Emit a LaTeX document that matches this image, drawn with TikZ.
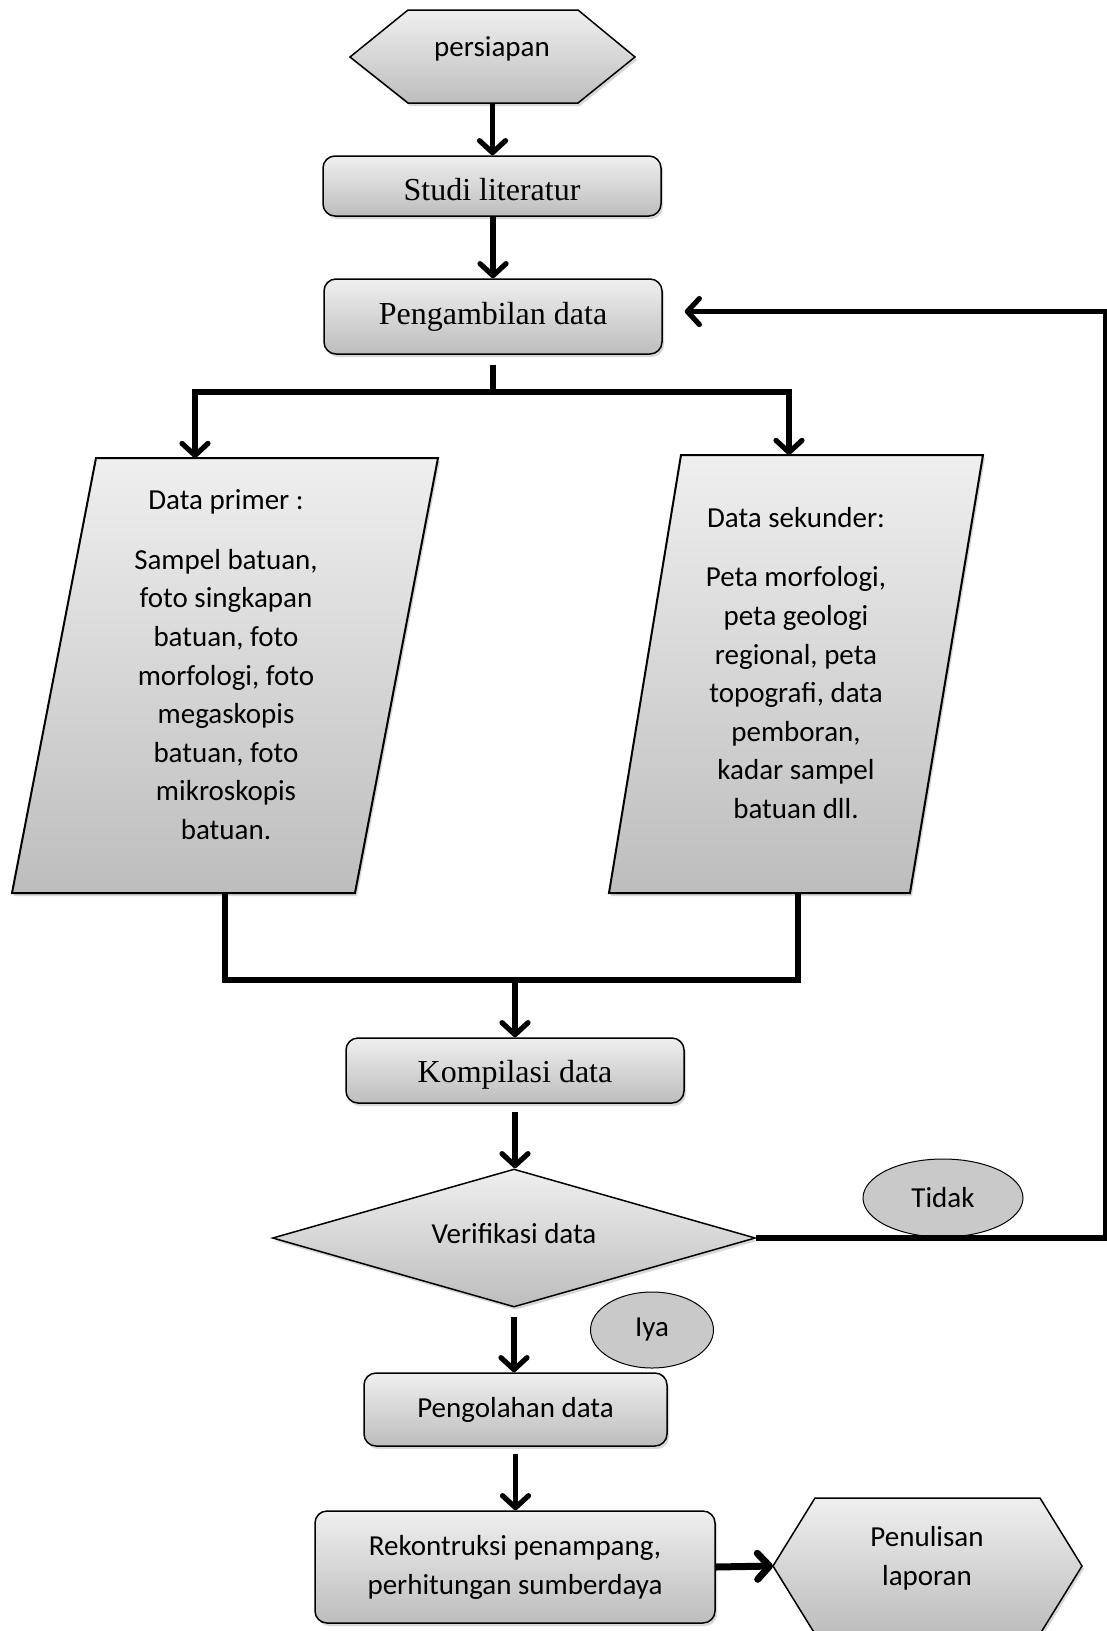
\documentclass[tikz,border=0pt]{standalone}
\usepackage{fontspec}
\setmainfont{Carlito}
\newfontfamily\tnr{Liberation Serif}
\usetikzlibrary{arrows.meta,shapes.geometric,shadows}
\definecolor{gtop}{HTML}{EFEFEF}
\definecolor{gbot}{HTML}{BDBDBD}
\definecolor{ovalgray}{HTML}{C9C9C9}
\tikzset{
  shade box/.style={top color=gtop, bottom color=gbot, draw=black, line width=1.5pt,
    drop shadow={opacity=0.3, shadow xshift=2pt, shadow yshift=-3pt}},
  procbox/.style={shade box, rounded corners=12pt, inner sep=0pt},
  calfont/.style={font=\fontsize{29}{38.6}\selectfont},
  tnrfont/.style={font=\tnr\fontsize{32}{38}\selectfont},
  conn/.style={line width=5.2pt, draw=black},
  arr/.style={conn, -{Straight Barb[length=12pt,width=26pt,round]}},
  oval/.style={ellipse, draw=black, line width=1pt, fill=ovalgray, calfont, inner sep=0pt},
  ghost/.style={inner sep=0pt, outer sep=0pt}
}
\begin{document}
\begin{tikzpicture}[x=1pt,y=-1pt]
\fill[white] (0,0) rectangle (1107,1631);
\useasboundingbox (0,0) rectangle (1107,1631);

% persiapan
\path[shade box] (350,57) -- (408,10) -- (578,10) -- (635,57) -- (578,103) -- (408,103) -- cycle;
\node[ghost, minimum width=285pt, minimum height=93pt] (persiapan) at (492.5,56.5) {};
\node[calfont] (persiapanT) at (492,49) {persiapan};

\node[procbox, minimum width=338pt, minimum height=60pt, tnrfont, text height=30pt] (studi) at (492,186) {Studi literatur};
\node[procbox, minimum width=338pt, minimum height=75pt, tnrfont] (peng) at (493,316.5) {Pengambilan data};

\draw[arr] (persiapan.south) -- (persiapan.south |- studi.north);
\draw[arr] (studi.south -| peng.north) -- (peng.north);

% split
\coordinate (splitL) at (195,392);
\coordinate (splitR) at (789,392);
\draw[conn] ([yshift=-10pt]peng.south) -- (peng.south |- splitL);
\draw[conn, line cap=rect] (splitL) -- (splitR);

% parallelograms
\path[shade box, line width=2pt] (96,458) -- (438,458) -- (355,893) -- (12,893) -- cycle;
\node[ghost, minimum width=342pt, minimum height=435pt] (primer) at (225,675.5) {};
\node[calfont, align=center, anchor=north, inner sep=0pt] (primerT) at (226,489.5)
  {Data primer :\\[21pt]Sampel batuan,\\foto singkapan\\batuan, foto\\morfologi, foto\\megaskopis\\batuan, foto\\mikroskopis\\batuan.};

\path[shade box, line width=2pt] (681,455) -- (983,455) -- (910,893) -- (609,893) -- cycle;
\node[ghost, minimum width=302pt, minimum height=438pt] (sekunder) at (796,674) {};
\node[calfont, align=center, anchor=north, inner sep=0pt] (sekunderT) at (796,507)
  {Data sekunder:\\[21pt]Peta morfologi,\\peta geologi\\regional, peta\\topografi, data\\pemboran,\\kadar sampel\\batuan dll.};

\draw[arr] (splitL) -- (splitL |- primer.north);
\draw[arr] (splitR) -- (splitR |- sekunder.north);

% join
\coordinate (joinL) at (225,980);
\node[procbox, minimum width=338pt, minimum height=65pt, tnrfont, text height=30pt] (kompil) at (515,1070.5) {Kompilasi data};
\draw[conn, line join=miter] (primer.south) -- (primer.south |- joinL) -- ([xshift=2pt]sekunder.south |- joinL) -- ([xshift=2pt]sekunder.south);
\draw[arr] (kompil.north |- joinL) -- (kompil.north);

% decision
\node[diamond, shade box, minimum width=483pt, minimum height=138pt, inner sep=0pt] (verif) at (514,1238) {};
\node[calfont] (verifT) at (514,1234) {Verifikasi data};
\draw[arr] ([yshift=-8pt]kompil.south) -- (kompil.south |- verif.north);

\node[oval, minimum width=160pt, minimum height=78pt] (tidak) at (943,1198) {Tidak};
\node[oval, minimum width=123pt, minimum height=76pt] (iya) at (652,1330) {Iya};

\draw[arr, line join=miter] (verif.east) -- ++(349,0) |- ([xshift=22pt,yshift=5pt]peng.east);

% processing
\node[procbox, minimum width=303pt, minimum height=73pt, calfont] (olah) at (515.5,1409.5) {Pengolahan data};
\draw[arr] ([yshift=-9pt]verif.south) -- (verif.south |- olah.north);

\node[procbox, minimum width=400pt, minimum height=112pt, align=center, font=\fontsize{29}{39}\selectfont] (rekon) at (515,1567) {Rekontruksi penampang,\\perhitungan sumberdaya};
\draw[arr] ([yshift=-7pt]olah.south) -- (olah.south |- rekon.north);

% penulisan
\path[shade box] (773,1566) -- (815,1498) -- (1040,1498) -- (1082,1566) -- (1040,1634) -- (815,1634) -- cycle;
\node[ghost, minimum width=309pt, minimum height=136pt] (penul) at (927.5,1566) {};
\node[calfont, align=center] (penulT) at (927,1558) {Penulisan\\laporan};
\draw[arr, line width=7pt] (rekon.east) -- (penul.west);
\end{tikzpicture}
\end{document}
